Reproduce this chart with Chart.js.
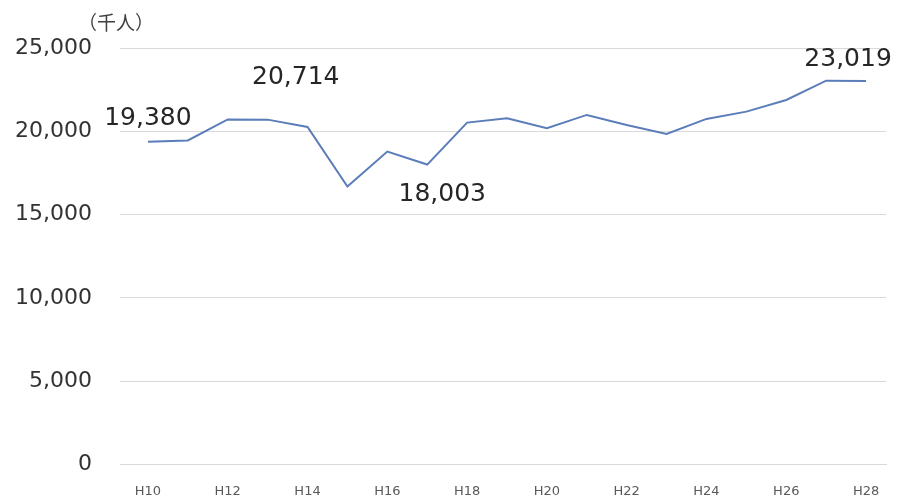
<!DOCTYPE html>
<html lang="ja">
<head>
<meta charset="utf-8">
<title>推移（千人）</title>
<script src="https://cdn.jsdelivr.net/npm/chart.js@4/dist/chart.umd.min.js"></script>
<style>
  html, body { margin: 0; padding: 0; background: #fff; }
  #wrap { position: relative; width: 900px; height: 498px; }
</style>
</head>
<body>
<div id="wrap"><canvas id="chart"></canvas></div>
<script>
/* Annual totals, H10–H28 (thousand people). */

const years = ["H10", "H11", "H12", "H13", "H14", "H15", "H16", "H17", "H18", "H19",
  "H20", "H21", "H22", "H23", "H24", "H25", "H26", "H27", "H28"];
const totals = [19380, 19450, 20714, 20700, 20264, 16686, 18783, 18003, 20522, 20786,
  20186, 20983, 20384, 19844, 20743, 21181, 21882, 23040, 23019];
const yTicks = [0, 5000, 10000, 15000, 20000, 25000];
const unitLabel = "（千人）";

// which points get a value label, and where the text sits relative to the point
const callouts = [
  { index: 0, dx: 0, dy: -23 },
  { index: 2, dx: 68, dy: -42 },
  { index: 7, dx: 15, dy: 30 },
  { index: 18, dx: -18, dy: -22 },
];

const FONT = "'DejaVu Sans', Verdana, sans-serif";

const calloutPlugin = {
  id: "callouts",
  afterDatasetsDraw(chart) {
    const { ctx } = chart;
    const meta = chart.getDatasetMeta(0);
    ctx.save();
    ctx.font = "25px " + FONT;
    ctx.fillStyle = "#262626";
    ctx.textAlign = "center";
    ctx.textBaseline = "middle";
    callouts.forEach((c) => {
      const pt = meta.data[c.index];
      if (!pt) return;
      ctx.fillText(totals[c.index].toLocaleString("en-US"), pt.x + c.dx, pt.y + c.dy);
    });
    // unit label above the y axis
    const y = chart.scales.y;
    ctx.font = "19px 'Noto Sans CJK JP', sans-serif";
    ctx.fillStyle = "#404040";
    ctx.fillText(unitLabel, y.right - 12, y.top - 25);
    ctx.restore();
  },
};

new Chart(document.getElementById("chart"), {
  type: "line",
  data: {
    labels: years,
    datasets: [
      {
        data: totals,
        borderColor: "#5b7dba",
        borderWidth: 2,
        pointRadius: 0,
        tension: 0,
        fill: false,
      },
    ],
  },
  options: {
    responsive: true,
    maintainAspectRatio: false,
    animation: false,
    layout: { padding: { top: 48, right: 14, left: 0, bottom: 0 } },
    plugins: {
      legend: { display: false },
      tooltip: { enabled: false },
    },
    scales: {
      x: {
        offset: true,
        grid: { display: false },
        border: { display: true, color: "#d9d9d9" },
        ticks: {
          autoSkip: false,
          maxRotation: 0,
          color: "#595959",
          font: { family: FONT, size: 13 },
          padding: 11,
          callback: (v, i) => (i % 2 === 0 ? years[i] : ""),
        },
        afterFit: (s) => { s.height = 33; },
      },
      y: {
        min: 0,
        max: 25000,
        afterBuildTicks: (s) => { s.ticks = yTicks.map((v) => ({ value: v })); },
        grid: { color: "#d9d9d9", tickLength: 8, drawTicks: true },
        border: { display: false },
        ticks: {
          color: "#333",
          font: { family: FONT, size: 22, lineHeight: 0.5 },
          padding: 28,
          callback: (v) => v.toLocaleString("en-US"),
        },
        afterFit: (s) => { s.width = 128; },
      },
    },
  },
  plugins: [calloutPlugin],
});
</script>
</body>
</html>
